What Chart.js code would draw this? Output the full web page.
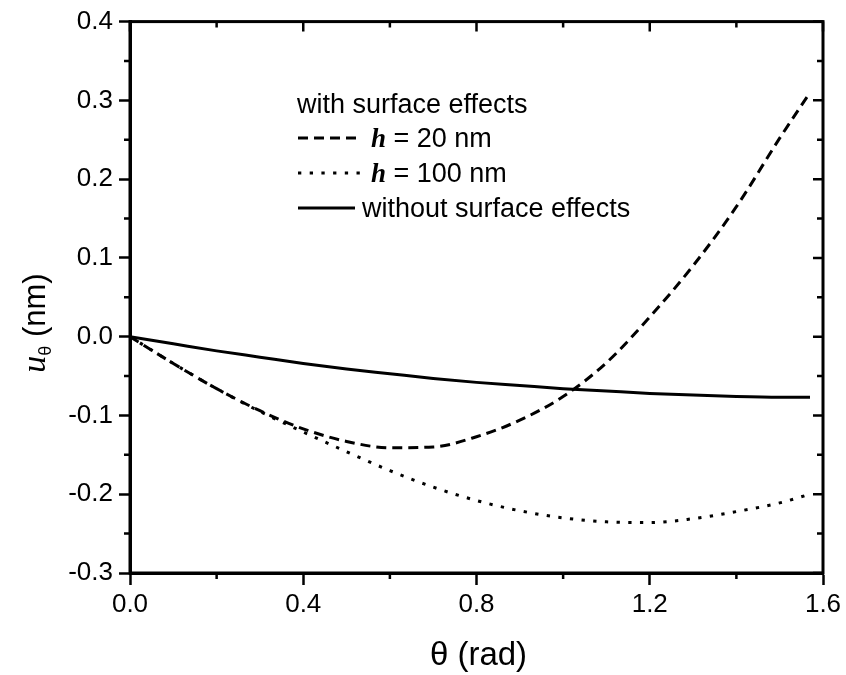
<!DOCTYPE html>
<html>
<head>
<meta charset="utf-8">
<script src="https://cdn.jsdelivr.net/npm/chart.js@4/dist/chart.umd.min.js"></script>
<style>
  body { margin: 0; background: #fff; }
  canvas { display: block; }
</style>
</head>
<body>
<canvas id="c" width="846" height="675"></canvas>
<script>
// theta (rad) samples
const theta = [0, 0.1, 0.2, 0.3, 0.4, 0.5, 0.6, 0.7, 0.8, 0.9, 1.0, 1.1, 1.2, 1.3, 1.4, 1.5, 1.57];

// u_theta (nm)
const h20 = [0, -0.034, -0.066, -0.094, -0.117, -0.133, -0.141, -0.140, -0.127, -0.106, -0.076, -0.033, 0.025, 0.090, 0.165, 0.252, 0.310];
const h100 = [0, -0.034, -0.066, -0.095, -0.121, -0.146, -0.170, -0.191, -0.208, -0.221, -0.230, -0.235, -0.236, -0.231, -0.222, -0.211, -0.200];
const noSurf = [0, -0.009, -0.018, -0.026, -0.034, -0.041, -0.047, -0.053, -0.058, -0.062, -0.066, -0.069, -0.072, -0.074, -0.076, -0.077, -0.077];

const xTicks = [0, 0.4, 0.8, 1.2, 1.6];
const yTicks = [-0.3, -0.2, -0.1, 0, 0.1, 0.2, 0.3, 0.4];

const SANS = '"Liberation Sans", Arial, sans-serif';
const SERIF = '"Liberation Serif", "Times New Roman", serif';

function pts(ys) { return theta.map((t, i) => ({ x: t, y: ys[i] })); }

// axes frame, minor ticks, mirrored ticks, titles, legend
const decor = {
  id: 'decor',
  afterDraw(chart) {
    const { ctx, chartArea: a, scales } = chart;
    const xs = scales.x, ys = scales.y;
    ctx.save();
    ctx.strokeStyle = '#000';
    ctx.lineWidth = 3;
    ctx.strokeRect(a.left, a.top, a.right - a.left, a.bottom - a.top);

    ctx.lineWidth = 2.5;
    ctx.beginPath();
    // x minor ticks (bottom out), top ticks in
    for (let v = 0; v <= 1.6001; v += 0.2) {
      const px = xs.getPixelForValue(v);
      const major = Math.abs(v / 0.4 - Math.round(v / 0.4)) < 1e-6;
      if (!major) { ctx.moveTo(px, a.bottom); ctx.lineTo(px, a.bottom + 6); }
      ctx.moveTo(px, a.top); ctx.lineTo(px, a.top + (major ? 10 : 6));
    }
    // y minor ticks (left out), right ticks in
    for (let k = -6; k <= 8; k++) {
      const v = k * 0.05;
      const py = ys.getPixelForValue(v);
      const major = k % 2 === 0;
      if (!major) { ctx.moveTo(a.left, py); ctx.lineTo(a.left - 6, py); }
      ctx.moveTo(a.right, py); ctx.lineTo(a.right - (major ? 10 : 6), py);
    }
    ctx.stroke();

    // x title
    ctx.fillStyle = '#000';
    ctx.textAlign = 'center';
    ctx.textBaseline = 'alphabetic';
    ctx.font = '33px ' + SANS;
    ctx.fillText('\u03b8 (rad)', (a.left + a.right) / 2 + 2, 665);

    // y title (rotated)
    ctx.save();
    ctx.translate(45, 323);
    ctx.rotate(-Math.PI / 2);
    ctx.textAlign = 'left';
    ctx.font = 'italic 34px ' + SERIF;
    const uW = ctx.measureText('u').width;
    ctx.font = '18px ' + SANS;
    const thW = ctx.measureText('\u03b8').width;
    ctx.font = '31px ' + SANS;
    const nmW = ctx.measureText(' (nm)').width;
    let x0 = -(uW + thW + nmW) / 2;
    ctx.font = 'italic 34px ' + SERIF;
    ctx.fillText('u', x0, 0);
    x0 += uW;
    ctx.font = '18px ' + SANS;
    ctx.fillText('\u03b8', x0, 6);
    x0 += thW;
    ctx.font = '31px ' + SANS;
    ctx.fillText(' (nm)', x0, 0);
    ctx.restore();

    // legend
    const lx0 = 298, lx1 = 362;
    ctx.textAlign = 'left';
    ctx.font = '27px ' + SANS;
    ctx.fillText('with surface effects', 297, 113);
    const rows = [
      { dash: [10, 6], y: 147, lab: ['h', ' = 20 nm'], end: lx1 },
      { dash: [3.3, 8.4], y: 182, lab: ['h', ' = 100 nm'], end: lx1 },
      { dash: [], y: 217, lab: [null, 'without surface effects'], end: 355 }
    ];
    rows.forEach(r => {
      ctx.beginPath();
      ctx.setLineDash(r.dash);
      ctx.lineWidth = 3;
      ctx.moveTo(lx0, r.y - 9);
      ctx.lineTo(r.end, r.y - 9);
      ctx.stroke();
      ctx.setLineDash([]);
      let tx = r.end + 7;
      if (r.lab[0]) {
        ctx.font = 'italic bold 27px ' + SERIF;
        ctx.fillText(r.lab[0], tx + 2, r.y);
        tx += ctx.measureText(r.lab[0]).width + 2;
      }
      ctx.font = '27px ' + SANS;
      ctx.fillText(r.lab[1], tx, r.y);
    });
    ctx.restore();
  }
};

new Chart(document.getElementById('c'), {
  type: 'line',
  data: {
    datasets: [
      { label: 'h = 20 nm', data: pts(h20), borderColor: '#000', borderWidth: 3, borderDash: [10, 6] },
      { label: 'h = 100 nm', data: pts(h100), borderColor: '#000', borderWidth: 3, borderDash: [3.3, 8.4] },
      { label: 'without surface effects', data: pts(noSurf), borderColor: '#000', borderWidth: 3 }
    ]
  },
  options: {
    responsive: false,
    animation: false,
    devicePixelRatio: 1,
    elements: { point: { radius: 0 }, line: { cubicInterpolationMode: 'monotone' } },
    layout: { padding: { top: 21, right: 23, left: 0, bottom: 0 } },
    plugins: { legend: { display: false }, tooltip: { enabled: false } },
    scales: {
      x: {
        type: 'linear', min: 0, max: 1.6,
        afterBuildTicks: s => { s.ticks = xTicks.map(v => ({ value: v })); },
        afterFit: s => { s.height = 102; },
        ticks: { color: '#000', font: { family: SANS, size: 26 }, padding: 4, callback: v => v.toFixed(1) },
        grid: { drawOnChartArea: false, tickLength: 12, tickWidth: 2.5, tickColor: '#000' },
        border: { display: true, color: '#000', width: 3 }
      },
      y: {
        type: 'linear', min: -0.3, max: 0.4,
        afterBuildTicks: s => { s.ticks = yTicks.map(v => ({ value: v })); },
        afterFit: s => { s.width = 130; },
        ticks: { color: '#000', font: { family: SANS, size: 26 }, padding: 6, callback: v => v.toFixed(1) },
        grid: { drawOnChartArea: false, tickLength: 11, tickWidth: 2.5, tickColor: '#000' },
        border: { display: true, color: '#000', width: 3 }
      }
    }
  },
  plugins: [decor]
});
</script>
</body>
</html>
